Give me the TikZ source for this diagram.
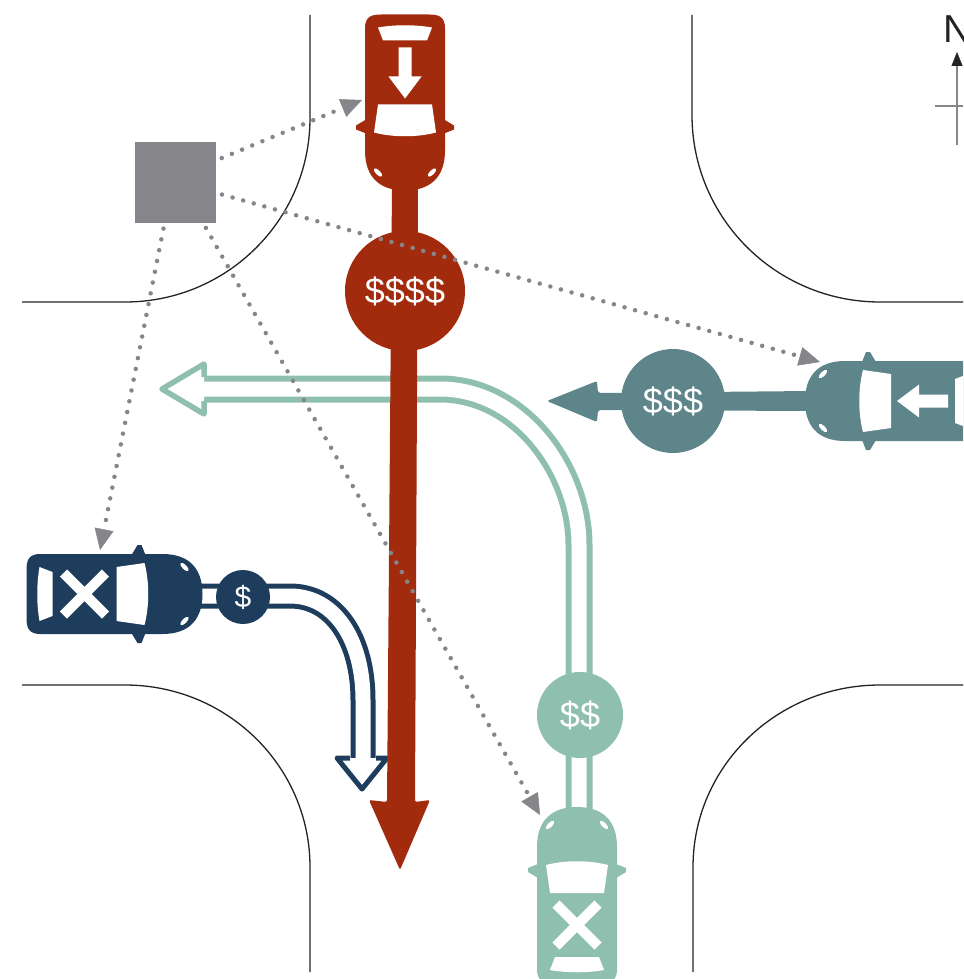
\documentclass[tikz,border=0pt]{standalone}
\usepackage{fontspec}
\setmainfont{Liberation Sans}
\usetikzlibrary{arrows.meta,calc}

\definecolor{rust}{RGB}{162,43,14}
\definecolor{slate}{RGB}{94,133,138}
\definecolor{mint}{RGB}{143,192,175}
\definecolor{navy}{RGB}{30,61,92}
\definecolor{sensorgray}{RGB}{134,134,138}
\definecolor{curb}{RGB}{35,35,35}

% A car seen from above, front towards local +x, centred on the origin.
% #1 colour, #2 centre, #3 rotation, #4 extra marking on the roof
\newcommand{\drawauto}[4]{%
  \begin{scope}[shift={#2}, rotate=#3]
    \fill[#1] (-74,-40) -- (48,-40) .. controls (76,-40) and (88,-24) .. (88,0)
      .. controls (88,24) and (76,40) .. (48,40) -- (-74,40)
      .. controls (-85,40) and (-88,35) .. (-88,24) -- (-88,-24)
      .. controls (-88,-35) and (-85,-40) .. (-74,-40) -- cycle;
    \fill[#1] (17,-39) -- (23,-49) -- (27,-49) -- (31,-39) -- cycle;
    \fill[#1] (17,39) -- (23,49) -- (27,49) -- (31,39) -- cycle;
    \fill[white] (2,-27) -- (30,-31) .. controls (35,-12) and (35,12) .. (30,31) -- (2,27) -- cycle;
    \fill[white] (-62,-22) -- (-62,22) -- (-75,27) .. controls (-78,10) and (-78,-10) .. (-75,-27) -- cycle;
    \fill[white, rotate around={-45:(70,-27)}] (70,-27) ellipse[x radius=5.5, y radius=2.3];
    \fill[white, rotate around={45:(70,27)}] (70,27) ellipse[x radius=5.5, y radius=2.3];
    #4
  \end{scope}}

% roof markings
\newcommand{\roofarrow}{\fill[white] (-55,-6.5) -- (-26,-6.5) -- (-26,-16.5) -- (-4,0) -- (-26,16.5) -- (-26,6.5) -- (-55,6.5) -- cycle;}
\newcommand{\roofcross}{\draw[white, line width=10pt] (-51,-21) -- (-9,21) (-51,21) -- (-9,-21);}

\tikzset{
  curbline/.style={curb, line width=1.3pt},
  coin/.style={circle, inner sep=0pt, text=white, font=\fontsize{36}{36}\selectfont},
  dotlink/.style={sensorgray, line width=4.5pt, line cap=round, dash pattern=on 0pt off 11pt,
    shorten <=6pt, -{Triangle[length=21pt, width=19pt, line width=0.5pt]}},
}

\begin{document}
\begin{tikzpicture}[x=1pt, y=-1pt]
\useasboundingbox (0,0) rectangle (963,979);
\clip (0,0) rectangle (963,979);

% kerb lines of the four corners
\draw[curbline] (310,15) -- (310,118) arc[start angle=0, end angle=90, x radius=185, y radius=184] -- (22,302);
\draw[curbline] (692,15) -- (692,115) arc[start angle=180, end angle=90, x radius=188, y radius=187] -- (963,302);
\draw[curbline] (22,685) -- (125,685) arc[start angle=-90, end angle=0, x radius=185, y radius=182] -- (310,972);
\draw[curbline] (963,685) -- (880,685) arc[start angle=-90, end angle=-180, x radius=187, y radius=182] -- (693,972);

% north marker
\node[anchor=base west, inner sep=0pt, text=curb, font=\fontsize{39}{39}\selectfont] (northlabel) at (943,43) {N};
\coordinate (compassfoot) at (957,145);
\coordinate (compasstip) at (957,52);
\coordinate (tickleft) at (935,106);
\coordinate (tickright) at (963,106);
\draw[sensorgray, line width=1.5pt, -{Triangle[length=14pt, width=11pt, line width=0.3pt, color=curb]}] (compassfoot) -- (compasstip);
\draw[sensorgray, line width=1.5pt] (tickleft) -- (tickright);

% mint car: planned left turn (outlined path)
\coordinate (mintfront) at (579,815);
\coordinate (mintbend) at (579,545);
\coordinate (mintleft) at (440,389);
\coordinate (minttail) at (204,389);
\draw[mint, line width=27pt] (mintfront) -- (mintbend) .. controls (579,470) and (520,389) .. (mintleft) -- (minttail);
\draw[white, line width=15pt] (mintfront) -- (mintbend) .. controls (579,470) and (520,389) .. (mintleft) -- (minttail);
\fill[white] (204,364) -- (162,389) -- (204,414) -- cycle;
\draw[mint, line width=5.5pt, line join=round] (204,377) -- (204,364) -- (162,389) -- (204,414) -- (204,401);

% navy car: planned right turn (outlined path)
\coordinate (navyfront) at (195,596);
\coordinate (navybend) at (290,596);
\coordinate (navydown) at (363,700);
\coordinate (navyhead) at (363,758);
\draw[navy, line width=25pt] (navyfront) -- (navybend) .. controls (335,596) and (363,640) .. (navydown) -- (navyhead);
\draw[white, line width=15pt] (navyfront) -- (navybend) .. controls (335,596) and (363,640) .. (navydown) -- (navyhead);
\fill[white] (337,758) -- (362,789) -- (387,758) -- cycle;
\draw[navy, line width=5pt, line join=round] (350,758) -- (337,758) -- (362,789) -- (387,758) -- (376,758);

% slate car: straight on, westbound
\fill[slate, rounded corners=2pt] (810,391) -- (598,393) -- (597,381) -- (547,401) -- (597,422) -- (598,410) -- (810,411) -- cycle;

% rust car: straight on, southbound
\fill[rust, rounded corners=2pt] (392,185) -- (418,185) -- (415,802) -- (430,800) -- (400,870) -- (369,800) -- (387,802) -- cycle;

% cars
\drawauto{rust}{(405,102.5)}{-90}{\roofarrow}
\drawauto{slate}{(893,401)}{180}{\roofarrow}
\drawauto{navy}{(114.5,594)}{0}{\roofcross}
\drawauto{mint}{(577,895)}{90}{\roofcross}

% bids
\node[coin, fill=rust, minimum size=120pt] (rustcoin) at (405,291) {\$\$\$\$};
\node[coin, fill=slate, minimum size=104pt] (slatecoin) at (673,401) {\$\$\$};
\node[coin, fill=mint, minimum size=86pt] (mintcoin) at (580,715) {\$\$};
\node[coin, fill=navy, minimum size=54pt, font=\fontsize{30}{30}\selectfont] (navycoin) at (243,597) {\$};

% roadside unit and its messages
\node[fill=sensorgray, minimum size=81pt, inner sep=0pt] (rsu) at (175.5,182) {};
\coordinate (aimrust) at (362,100);
\coordinate (aimslate) at (820,362);
\coordinate (aimnavy) at (100,550);
\coordinate (aimmint) at (540,815);
\draw[dotlink] (rsu.28) -- (aimrust);
\draw[dotlink] (rsu.345) -- (aimslate);
\draw[dotlink] (rsu.255.5) -- (aimnavy);
\draw[dotlink] (rsu.304) -- (aimmint);
\end{tikzpicture}
\end{document}
